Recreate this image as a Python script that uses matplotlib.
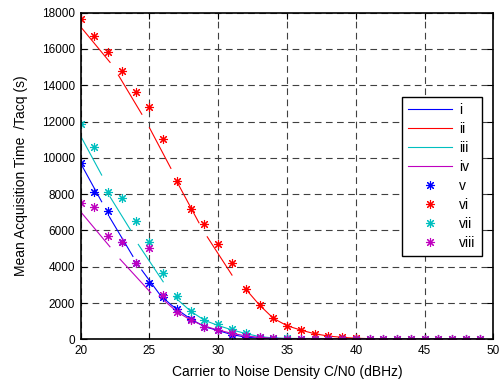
import numpy as np
import matplotlib
matplotlib.use('Agg')
import matplotlib.pyplot as plt

plt.rcParams['font.family'] = ['Liberation Sans', 'DejaVu Sans']

# measured points (markers) at integer C/N0
cn0 = list(range(20, 50))
v_vals = [9700, 8100, 7090, 5380, 4220, 3080, 2310, 1650, 1120, 690,
          510, 240, 110, 60, 40, 30, 30, 30, 30, 30,
          30, 30, 30, 30, 30, 30, 30, 30, 30, 30]
vi_vals = [17630, 16730, 15810, 14780, 13640, 12800, 11020, 8740, 7180, 6350,
           5230, 4190, 2770, 1890, 1160, 750, 510, 310, 180, 110,
           60, 40, 30, 30, 30, 30, 30, 30, 30, 30]
vii_vals = [11860, 10610, 8130, 7770, 6540, 5380, 3640, 2400, 1580, 1060,
            840, 550, 330, 150, 70, 50, 40, 30, 30, 30,
            30, 30, 30, 30, 30, 30, 30, 30, 30, 30]
viii_vals = [7490, 7310, 5690, 5380, 4220, 5010, 2440, 1520, 1060, 700,
             500, 330, 190, 110, 60, 40, 30, 30, 30, 30,
             30, 30, 30, 30, 30, 30, 30, 30, 30, 30]

# theoretical curves, drawn as separate pieces
i_segs = [
    [(20, 9700), (21.53, 7580)],
    [(22.08, 6760), (23.8, 4570)],
    [(24.44, 3820), (25.78, 2440), (26.5, 1950), (27, 1650), (28, 1120),
     (29, 700), (30, 480), (31, 260), (32, 120), (33, 60), (35, 30), (49, 20)],
]
ii_segs = [
    [(20, 17220), (22.14, 15260)],
    [(22.74, 14560), (24.45, 12400)],
    [(25, 11660), (26.56, 9420)],
    [(27, 8680), (28.6, 6420)],
    [(29.2, 5650), (31, 3540)],
    [(31.95, 2810), (33, 1890), (34, 1160), (35, 750), (36, 510), (37, 310),
     (38, 180), (39, 110), (40, 60), (41, 40), (49, 30)],
]
iii_segs = [
    [(20, 11200), (21.53, 9050)],
    [(22.13, 7860), (23.63, 6020)],
    [(24.19, 5230), (26.0, 3170)],
    [(26.8, 2350), (28, 1550), (29, 1050), (30, 760), (31, 520), (32, 320),
     (33, 150), (34, 80), (35, 50), (49, 30)],
]
iv_segs = [
    [(20, 7030), (22.13, 5100)],
    [(22.86, 4420), (25.1, 2570)],
    [(25.7, 2380), (27, 1520), (28, 1060), (29, 730), (30, 510), (31, 330),
     (32, 190), (33, 110), (34, 60), (35, 40), (49, 25)],
]


def join(segs):
    xs, ys = [], []
    for s in segs:
        xs += [p[0] for p in s] + [np.nan]
        ys += [p[1] for p in s] + [np.nan]
    return xs, ys


fig = plt.figure(figsize=(5.04, 3.83), dpi=100)
ax = fig.add_axes([0.160, 0.114, 0.819, 0.853])

for segs, c, lab in [(i_segs, 'b', 'i'), (ii_segs, 'r', 'ii'),
                     (iii_segs, 'c', 'iii'), (iv_segs, 'm', 'iv')]:
    xs, ys = join(segs)
    ax.plot(xs, ys, color=c, lw=0.8, label=lab)

star = (8, 2, 0)
for vals, c, lab in [(v_vals, 'b', 'v'), (vi_vals, 'r', 'vi'),
                     (vii_vals, 'c', 'vii'), (viii_vals, 'm', 'viii')]:
    ax.plot(cn0, vals, linestyle='none', marker=star, color=c,
            markersize=6.5, markeredgewidth=0.8, label=lab)

ax.set_xlim(20, 50)
ax.set_ylim(0, 18000)
ax.set_xticks(range(20, 51, 5))
ax.set_yticks(range(0, 18001, 2000))
ax.grid(True, color='0.25', linestyle=(0, (6, 4)), linewidth=0.8)
ax.set_axisbelow(True)
ax.tick_params(direction='in', length=4, labelsize=8.5, top=True, right=True,
               width=0.8)
ax.tick_params(axis='y', pad=4)
ax.tick_params(axis='x', pad=4)
for sp in ax.spines.values():
    sp.set_linewidth(1.2)

ax.set_xlabel('Carrier to Noise Density C/N0 (dBHz)', fontsize=10, labelpad=6)
ax.set_ylabel('Mean Acquisition Time  /Tacq (s)', fontsize=10, labelpad=10)

leg = ax.legend(loc='upper left', bbox_to_anchor=(0.778, 0.743), fontsize=10,
                frameon=True, fancybox=False, edgecolor='k', framealpha=1,
                borderaxespad=0, handlelength=3.2, labelspacing=0.36,
                handletextpad=0.5, borderpad=0.45)
leg.get_frame().set_linewidth(1.0)

fig.savefig('out.png', dpi=100)
